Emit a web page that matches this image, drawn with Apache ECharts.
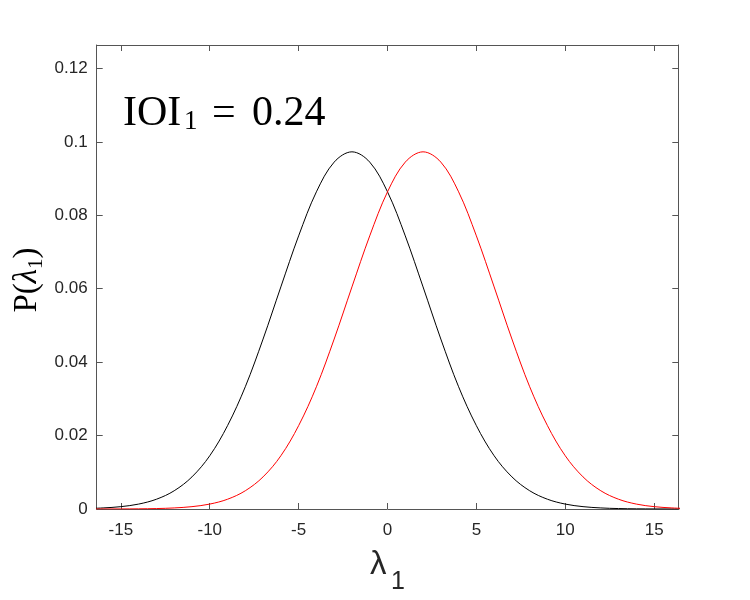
<!DOCTYPE html>
<html lang="en">
<head>
    <meta charset="UTF-8">
    <title>P(lambda_1)</title>
    <style type="text/css">
        *{ margin: 0; padding: 0; }
        #main{ width: 750px; height: 600px; }
    </style>
</head>
<body>
    <div id="main"></div>
    <script src="https://cdn.jsdelivr.net/npm/echarts@6/dist/echarts.min.js"></script>
    <script type="text/javascript">
        // lambda_1 sample positions
        var lambdaX = [-17,-16,-15,-14,-13,-12,-11,-10,-9,-8,-7,-6,-5,-4,-3,-2,-1,0,
                       1,2,3,4,5,6,7,8,9,10,11,12,13,14,15,16,17];
        // black curve (centred near -2)
        var pBlack = [0.00012,0.00029,0.00064,0.00134,0.00266,0.00497,0.00875,0.0145,0.0227,0.0333,
                      0.0463,0.0605,0.0744,0.0864,0.0945,0.0973,0.0945,0.0864,0.0744,0.0605,
                      0.0463,0.0333,0.0227,0.0145,0.00875,0.00497,0.00266,0.00134,0.00064,0.00029,
                      0.00012,0.00005,0.00002,0.00001,0];
        // red curve (centred near +2)
        var pRed = [0,0.00001,0.00002,0.00005,0.00012,0.00029,0.00064,0.00134,0.00266,0.00497,
                    0.00875,0.0145,0.0227,0.0333,0.0463,0.0605,0.0744,0.0864,0.0945,0.0973,
                    0.0945,0.0864,0.0744,0.0605,0.0463,0.0333,0.0227,0.0145,0.00875,0.00497,
                    0.00266,0.00134,0.00064,0.00029,0.00012];
        var xTicks = [-15, -10, -5, 0, 5, 10, 15];
        var yTicks = [0, 0.02, 0.04, 0.06, 0.08, 0.1, 0.12];

        function pairs(xs, ys) {
            var out = [];
            for (var i = 0; i < xs.length; i++) out.push([xs[i], ys[i]]);
            return out;
        }

        var axisColor = '#555';
        var labelStyle = { color: '#262626', fontFamily: 'Liberation Sans', fontSize: 17 };
        var serif = 'Liberation Serif';

        var myChart = echarts.init(document.getElementById('main'));

        function xAxisCfg(pos, showLabel) {
            return {
                type: 'value', position: pos, min: -16.36, max: 16.36,
                splitLine: { show: false },
                axisLine: { show: true, onZero: false, lineStyle: { color: axisColor, width: 1 } },
                axisTick: { show: true, inside: true, length: 6, customValues: xTicks, lineStyle: { color: axisColor } },
                axisLabel: Object.assign({
                    show: showLabel, margin: 13, customValues: xTicks,
                    formatter: function (v) { return String(v); }
                }, labelStyle)
            };
        }
        function yAxisCfg(pos, showLabel) {
            return {
                type: 'value', position: pos, min: 0, max: 0.1264,
                splitLine: { show: false },
                axisLine: { show: true, onZero: false, lineStyle: { color: axisColor, width: 1 } },
                axisTick: { show: true, inside: true, length: 6, customValues: yTicks, lineStyle: { color: axisColor } },
                axisLabel: Object.assign({
                    show: showLabel, margin: 9, customValues: yTicks,
                    formatter: function (v) { return String(Math.round(v * 100) / 100); }
                }, labelStyle)
            };
        }

        option = {
            animation: false,
            backgroundColor: '#fff',
            grid: { left: 96.7, right: 71.7, top: 45, bottom: 91, containLabel: false },
            xAxis: [xAxisCfg('bottom', true), xAxisCfg('top', false)],
            yAxis: [yAxisCfg('left', true), yAxisCfg('right', false)],
            graphic: [
                { type: 'text', left: 123, top: 93, style: { text: 'IOI', font: '42px ' + serif, fill: '#000' } },
                { type: 'text', left: 184, top: 108, style: { text: '1', font: '27px ' + serif, fill: '#000' } },
                { type: 'text', left: 212, top: 93, style: { text: '=', font: '42px ' + serif, fill: '#000' } },
                { type: 'text', left: 252, top: 93, style: { text: '0.24', font: '42px ' + serif, fill: '#000' } },
                { type: 'text', left: 370, top: 548, style: { text: 'λ', font: '33px Liberation Sans', fill: '#262626' } },
                { type: 'text', left: 391, top: 570, style: { text: '1', font: '25px Liberation Sans', fill: '#262626' } },
                {
                    // y-axis label P(lambda_1), rotated, with subscript
                    type: 'text', x: 27, y: 280, rotation: Math.PI / 2,
                    style: {
                        text: '{a|P(}{b|λ}{s|1}{a|)}', align: 'center', verticalAlign: 'middle',
                        rich: {
                            a: { fontFamily: serif, fontSize: 33, lineHeight: 40, verticalAlign: 'middle', fill: '#000' },
                            b: { fontFamily: serif, fontStyle: 'italic', fontSize: 33, lineHeight: 40, verticalAlign: 'middle', fill: '#000' },
                            s: { fontFamily: serif, fontSize: 21, lineHeight: 18, verticalAlign: 'bottom', fill: '#000' }
                        }
                    }
                }
            ],
            series: [{
                type: 'line', name: 'black', xAxisIndex: 0, yAxisIndex: 0,
                data: pairs(lambdaX, pBlack), smooth: 0.35, showSymbol: false, symbol: 'none',
                lineStyle: { color: '#000', width: 1 }, silent: true
            }, {
                type: 'line', name: 'red', xAxisIndex: 0, yAxisIndex: 0,
                data: pairs(lambdaX, pRed), smooth: 0.35, showSymbol: false, symbol: 'none',
                lineStyle: { color: '#ff0000', width: 1 }, silent: true
            }]
        };
        myChart.setOption(option);
    </script>
</body>
</html>
